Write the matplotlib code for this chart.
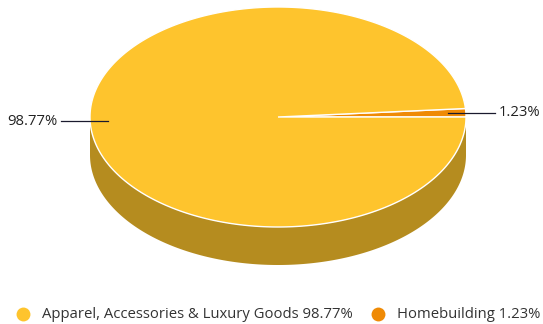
import numpy as np
import matplotlib.pyplot as plt

# data
labels = ["Apparel, Accessories & Luxury Goods", "Homebuilding"]
shares = [98.77, 1.23]
top_colors = ["#FEC42D", "#EF8A05"]
side_colors = ["#B58C1F", "#A86104"]

plt.rcParams['font.family'] = ['Open Sans', 'DejaVu Sans']

W, H = 543, 324
fig = plt.figure(figsize=(W / 100, H / 100), dpi=100)
ax = fig.add_axes([0, 0, 1, 1])
ax.set_xlim(0, W)
ax.set_ylim(H, 0)
ax.axis('off')

# pie geometry (pixels)
cx, cy = 278, 117
rx, ry = 188, 110
depth = 38

def pt(theta, dy=0):
    return cx + rx * np.cos(theta), cy - ry * np.sin(theta) + dy

# slice angles: smallest slice starts at 3 o'clock going counter-clockwise
vals = [shares[1], shares[0]]
cols = [top_colors[1], top_colors[0]]
scols = [side_colors[1], side_colors[0]]
starts = np.concatenate([[0], np.cumsum(vals)[:-1]]) / 100 * 2 * np.pi
ends = np.cumsum(vals) / 100 * 2 * np.pi

# side walls (only front half visible)
for a0, a1, sc in zip(starts, ends, scols):
    lo, hi = max(a0, np.pi), min(a1, 2 * np.pi)
    if hi <= lo:
        continue
    t = np.linspace(lo, hi, 200)
    xt, yt = pt(t)
    xb, yb = pt(t[::-1], depth)
    ax.fill(np.concatenate([xt, xb]), np.concatenate([yt, yb]),
            color=sc, lw=0, zorder=1)

# tops
for a0, a1, c in zip(starts, ends, cols):
    t = np.linspace(a0, a1, 400)
    xs, ys = pt(t)
    ax.fill(np.concatenate([[cx], xs]), np.concatenate([[cy], ys]),
            facecolor=c, edgecolor='white', lw=1, zorder=2)

# data labels with connectors
for a0, a1, v in zip(starts, ends, vals):
    mid = (a0 + a1) / 2
    ex, ey = pt(mid)
    side = 1 if np.cos(mid) >= 0 else -1
    x_in = ex - side * 18
    x_out = ex + side * 29
    ax.plot([x_in, x_out], [ey, ey], color='#1a1a2e', lw=0.9, zorder=3)
    ax.text(x_out + side * 4, ey, f"{v:.2f}%", ha='left' if side > 0 else 'right',
            va='center', fontsize=10.7, color='#222222', zorder=3)

# legend (drawn by hand to match spacing)
leg_y = 314
leg_marker_x = [23, 378]
for mx, c, n, v in zip(leg_marker_x, top_colors, labels, shares):
    ax.scatter([mx], [leg_y], s=100, color=c, lw=0, zorder=3)
    ax.text(mx + 19, leg_y, f"{n} {v:.2f}%", ha='left', va='center',
            fontsize=10.7, color='#333333')

fig.savefig("out.png", dpi=100)
